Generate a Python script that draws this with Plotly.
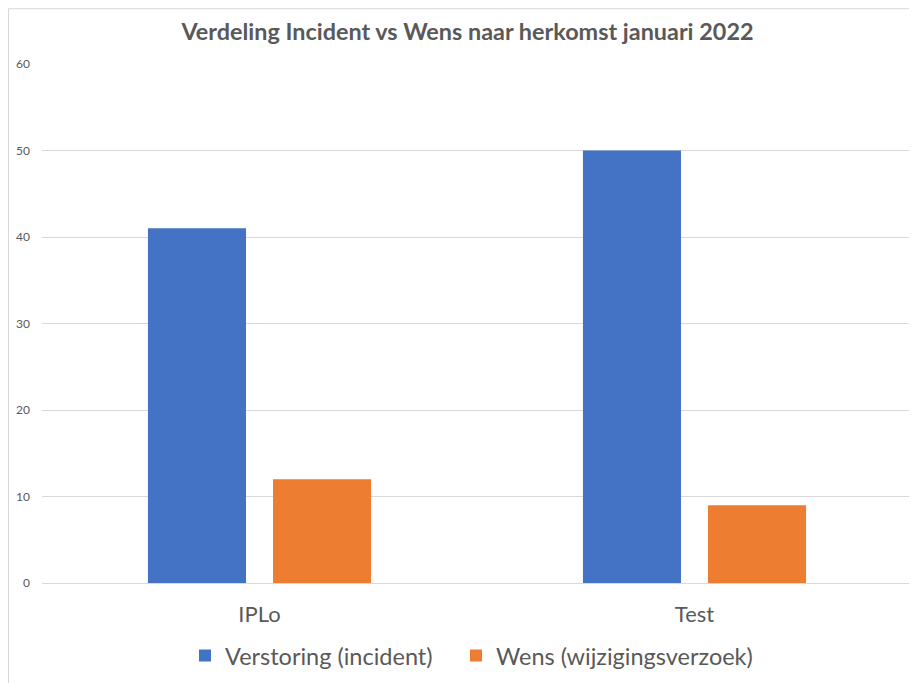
import plotly.graph_objects as go

categories = ["IPLo", "Test"]
verstoring = [41, 50]
wens = [12, 9]
series_names = ["Verstoring (incident)", "Wens (wijzigingsverzoek)"]
y_ticks = [0, 10, 20, 30, 40, 50, 60]

FONT = "Lato"
GREY = "#595959"

W, H = 909, 675
L, R, T, B = 34, 5, 56, 98
PH = H - T - B
PW = W - L - R
OFF = 8  # page body margin

fig = go.Figure()
fig.add_trace(go.Bar(x=categories, y=verstoring, name=series_names[0], legend="legend",
                     marker=dict(color="#4472C4", line=dict(width=0))))
fig.add_trace(go.Bar(x=categories, y=wens, name=series_names[1], legend="legend2",
                     marker=dict(color="#ED7D31", line=dict(width=0))))


def leg(x_px):
    return dict(orientation="h", x=(x_px - OFF - L) / PW, xanchor="left",
                y=(H - B - (658 - OFF)) / PH, yanchor="middle",
                font=dict(family=FONT, size=23.5, color=GREY), itemwidth=30,
                bgcolor="rgba(0,0,0,0)")


fig.update_layout(
    width=W, height=H,
    margin=dict(l=L, r=R, t=T, b=B),
    paper_bgcolor="white", plot_bgcolor="white",
    barmode="group", bargap=0.425, bargroupgap=0.216,
    title=dict(text="<b>Verdeling Incident vs Wens naar herkomst januari 2022</b>",
               x=(459.5 - L) / PW, xref="paper", xanchor="center",
               y=1 - 24 / H, yanchor="middle",
               font=dict(family=FONT, size=23.4, color=GREY)),
    font=dict(family=FONT, color=GREY),
    showlegend=True,
    legend=leg(185),
    legend2=leg(456),
    xaxis=dict(showgrid=False, showline=False, zeroline=False,
               tickfont=dict(family=FONT, size=22, color=GREY),
               ticklabelstandoff=16),
    yaxis=dict(range=[0, 60], tickvals=y_ticks, showgrid=True, gridcolor="#D9D9D9",
               gridwidth=1, zeroline=True, zerolinecolor="#D9D9D9", zerolinewidth=1,
               showline=False, tickfont=dict(family=FONT, size=12, color=GREY),
               ticklabelstandoff=11),
    shapes=[
        dict(type="line", xref="paper", yref="paper",
             x0=(0.5 - L) / PW, x1=(0.5 - L) / PW, y0=(H - B - 0.5) / PH, y1=-0.5,
             line=dict(color="#D9D9D9", width=1)),
        dict(type="line", xref="paper", yref="paper",
             x0=(0.5 - L) / PW, x1=1.1, y0=(H - B - 0.5) / PH, y1=(H - B - 0.5) / PH,
             line=dict(color="#D9D9D9", width=1)),
    ],
)

fig.write_html("out.html")
